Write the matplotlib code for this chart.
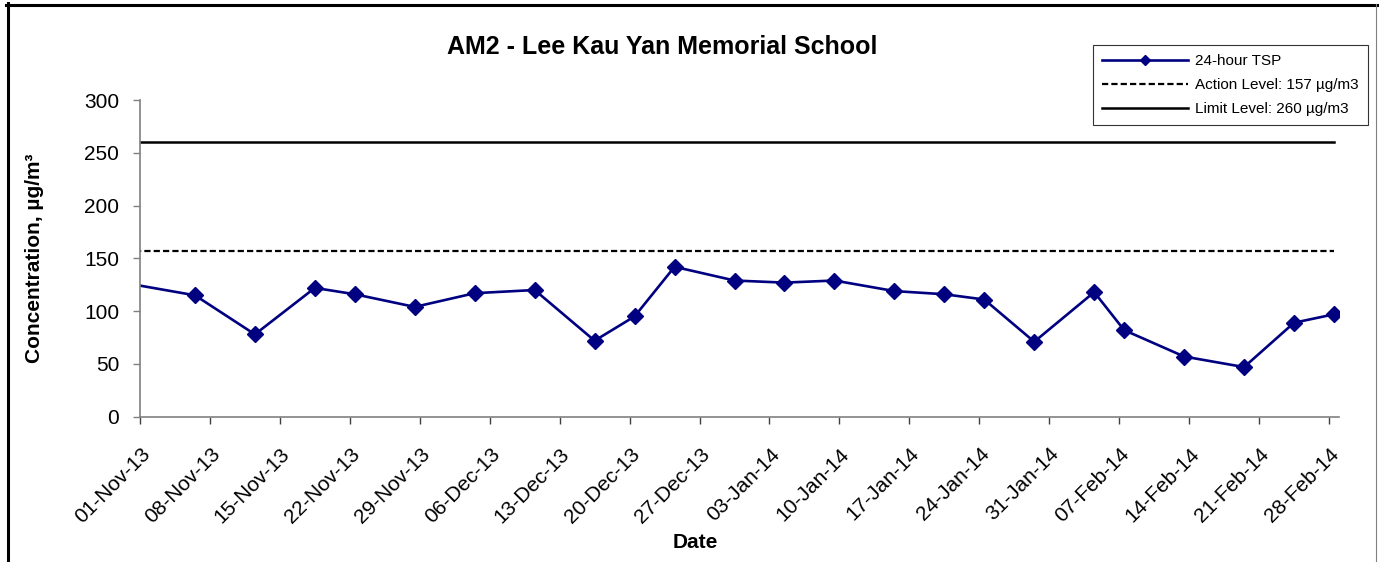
import pandas as pd
import matplotlib
matplotlib.use('Agg')
import matplotlib.pyplot as plt
import matplotlib.dates as mdates
import matplotlib.transforms as mtransforms
from matplotlib.lines import Line2D

plt.rcParams['font.family'] = ['Liberation Sans', 'DejaVu Sans']

# ─── Data ─────────────────────────────────────────────────────────────────────
sample_dates = ['2013-10-31', '2013-11-06', '2013-11-12', '2013-11-18', '2013-11-22',
                '2013-11-28', '2013-12-04', '2013-12-10', '2013-12-16', '2013-12-20',
                '2013-12-24', '2013-12-30', '2014-01-04', '2014-01-09', '2014-01-15',
                '2014-01-20', '2014-01-24', '2014-01-29', '2014-02-04', '2014-02-07',
                '2014-02-13', '2014-02-19', '2014-02-24', '2014-02-28']
tsp = [125, 115, 78, 122, 116, 104, 117, 120, 72, 95, 142, 129, 127, 129, 119,
       116, 111, 71, 118, 82, 57, 47, 89, 97]
action_level = 157
limit_level = 260
title = 'AM2 - Lee Kau Yan Memorial School'

# Excel date axis: each point sits mid-day, ticks at day start
x = pd.to_datetime(sample_dates) + pd.Timedelta(hours=12)
start, end = pd.Timestamp('2013-11-01'), pd.Timestamp('2014-03-01')
tick_dates = pd.date_range(start, '2014-02-28', freq='7D')

W, H = 1379, 562
fig = plt.figure(figsize=(W / 100, H / 100), dpi=100)
ax = fig.add_axes([140 / W, 1 - 416.7 / H, (1339 - 140) / W, (416.7 - 100) / H])

ax.plot(x, tsp, color='#000080', lw=1.9, marker='D', ms=8.5, mfc='#000080',
        mec='#000080', markevery=slice(1, None), label='24-hour TSP')
ax.plot(x, [action_level] * len(x), color='black', lw=1.6, dashes=(2.8, 1.4),
        label='Action Level: 157 µg/m3')
ax.plot(x, [limit_level] * len(x), color='black', lw=1.8,
        label='Limit Level: 260 µg/m3')

ax.set_xlim(start, end)
ax.set_ylim(0, 300)
ax.set_yticks(range(0, 301, 50))
ax.set_xticks(tick_dates)
ax.xaxis.set_major_formatter(mdates.DateFormatter('%d-%b-%y'))

for s in ['top', 'right']:
    ax.spines[s].set_visible(False)
for s in ['left', 'bottom']:
    ax.spines[s].set_color('#808080')
    ax.spines[s].set_linewidth(1.2)

ax.tick_params(axis='y', direction='out', length=5, width=1, color='#808080',
               labelsize=15, pad=10)
ax.tick_params(axis='x', direction='out', length=5, width=1, color='#404040',
               labelsize=15, pad=6)

# shift rotated date labels down/right like the Excel layout
shift = mtransforms.ScaledTranslation(7 / 100, -19 / 100, fig.dpi_scale_trans)
for lab in ax.get_xticklabels():
    lab.set_rotation(45)
    lab.set_ha('right')
    lab.set_va('center')
    lab.set_rotation_mode('anchor')
    lab.set_transform(lab.get_transform() + shift)

fig.text(662 / W, 1 - 47 / H, title, ha='center', va='center',
         fontsize=18, fontweight='bold')
fig.text(695 / W, 1 - 542 / H, 'Date', ha='center', va='center',
         fontsize=15, fontweight='bold')
fig.text(35 / W, 1 - 258 / H, 'Concentration, µg/m³', ha='center', va='center',
         rotation=90, fontsize=15, fontweight='bold')

leg = ax.legend(loc='upper right', bbox_to_anchor=(1368 / W, 1 - 45 / H),
                bbox_transform=fig.transFigure, fontsize=11, frameon=True,
                fancybox=False, edgecolor='black', handlelength=5.6,
                handletextpad=0.5, labelspacing=0.65, borderpad=0.6,
                borderaxespad=0, markerscale=0.6)
leg.get_frame().set_linewidth(0.8)

# chart border (cropped Excel chart area)
fig.add_artist(Line2D([7.5 / W, 7.5 / W], [0, 1 - 3 / H], color='black', lw=2.2))
fig.add_artist(Line2D([6 / W, 1377 / W], [1 - 4.5 / H, 1 - 4.5 / H],
                      color='black', lw=2.2))
fig.add_artist(Line2D([1376 / W, 1376 / W], [0, 1 - 4 / H], color='#808080', lw=0.8))

fig.savefig('out.png', dpi=100)
